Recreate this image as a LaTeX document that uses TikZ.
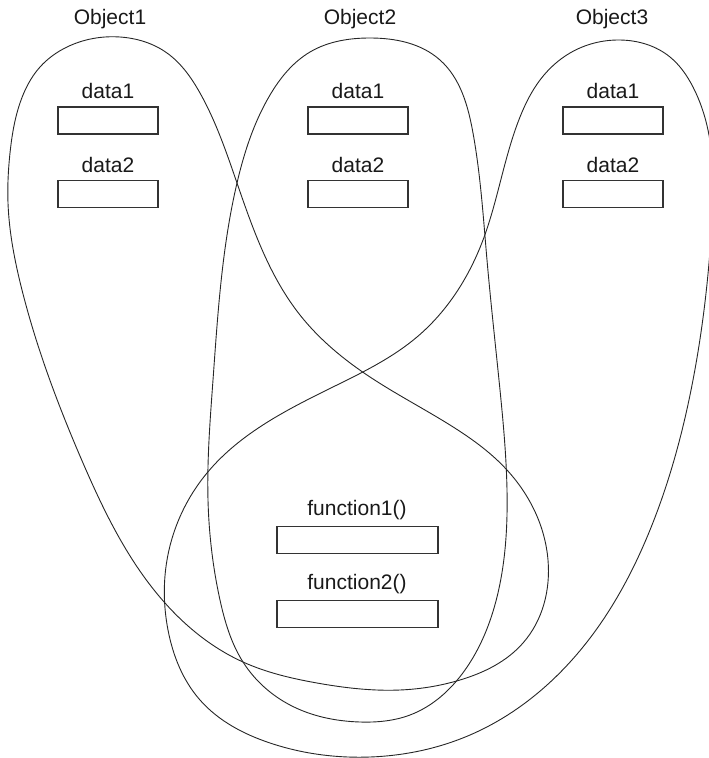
\documentclass[tikz,border=0pt]{standalone}
\usepackage{fontspec}
\setmainfont{Liberation Sans}
\usetikzlibrary{hobby}
\begin{document}
\begin{tikzpicture}[x=1pt,y=-1pt,
  loopline/.style={draw=black!85, line width=0.9pt},
  slot/.style={draw=black!80, line width=1.1pt, minimum width=100pt, minimum height=27pt, inner sep=0pt},
  fslot/.style={slot, minimum width=161pt},
  lbl/.style={font=\fontsize{21}{24}\selectfont, inner sep=0pt, anchor=base, text=black!90}]
\useasboundingbox (0,0) rectangle (709,758);
\clip (0,0) rectangle (709,758);

% Object1 loop
\draw[loopline] plot[closed hobby] coordinates {
 (120,37) (167,53) (200,93) (237,183) (300,315) (370,377) (450,425) (507,470) (548,560)
 (523,643) (460,680) (400,690) (317,683) (243,662) (165,603) (83,463) (22,290) (8,203)
 (10,153) (20,103) (40,67) (67,47)};

% Object2 loop
\draw[loopline] plot[closed hobby] coordinates {
 (370,38) (440,60) (473,133) (487,260) (500,390) (507,490) (497,597) (465,670)
 (410,715) (360,722) (290,705) (243,662) (220,600) (208,500) (213,380) (237,183)
 (270,95) (310,52)};

% Object3 loop
\draw[loopline] plot[closed hobby] coordinates {
 (620,40) (670,57) (693,87) (708,130) (712,220) (693,380) (650,530) (583,647) (470,735)
 (370,757) (270,743) (200,700) (168,630) (167,560) (207,473)
 (337,385) (417,337) (483,240) (520,117) (540,80) (570,53)};

% titles
\node[lbl] (t1) at (110,24) {Object1};
\node[lbl] (t2) at (360,24) {Object2};
\node[lbl] (t3) at (612,24) {Object3};

% data slots
\node[lbl] (l11) at (108,98) {data1};
\node[slot] (b11) at (108,120.5) {};
\node[lbl] (l12) at (108,172) {data2};
\node[slot] (b12) at (108,194) {};

\node[lbl] (l21) at (358,98) {data1};
\node[slot] (b21) at (358,120.5) {};
\node[lbl] (l22) at (358,172) {data2};
\node[slot] (b22) at (358,194) {};

\node[lbl] (l31) at (613,98) {data1};
\node[slot] (b31) at (613,120.5) {};
\node[lbl] (l32) at (613,172) {data2};
\node[slot] (b32) at (613,194) {};

% function slots
\node[lbl] (f1) at (357,515) {function1()};
\node[fslot] (fb1) at (357.5,540) {};
\node[lbl] (f2) at (357,589) {function2()};
\node[fslot] (fb2) at (357.5,614) {};
\end{tikzpicture}
\end{document}
